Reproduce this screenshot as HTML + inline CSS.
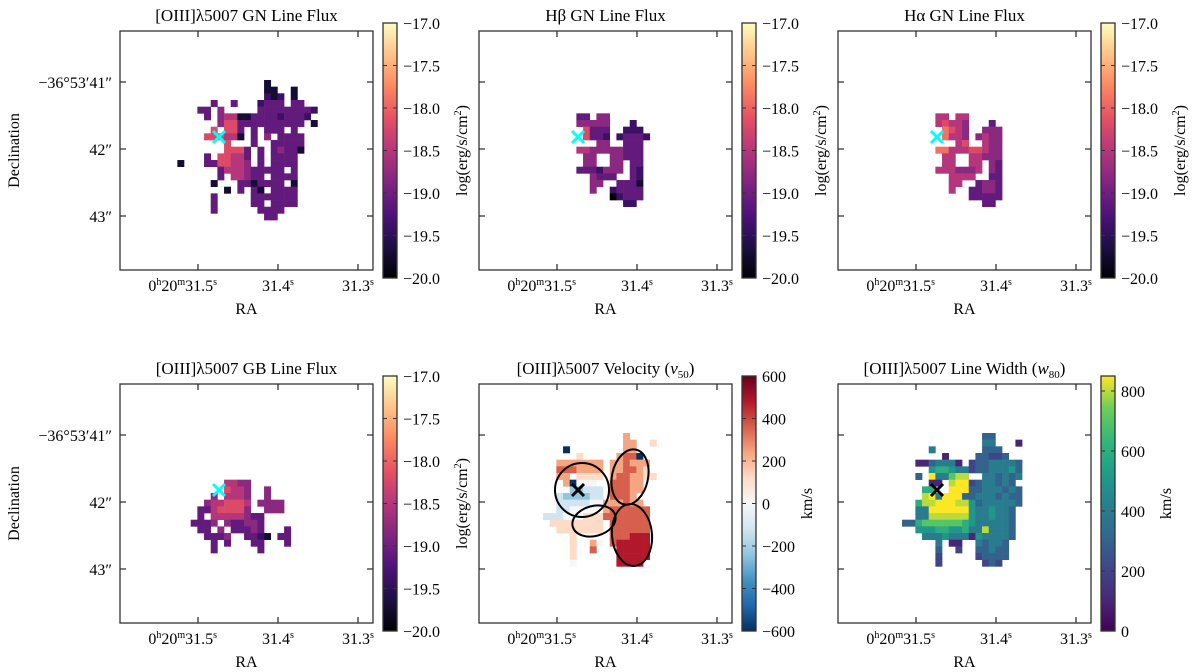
<!DOCTYPE html>
<html><head><meta charset="utf-8"><style>
body{margin:0;background:#fff;}
svg{display:block;font-family:"Liberation Serif",serif;}
</style></head><body>
<svg id="fig" width="1200" height="672" viewBox="0 0 1200 672" xmlns="http://www.w3.org/2000/svg"></svg>
<script>
// ---- data ----
const p1Grid=["..............1.......","..............11..1...","..............212.1...","......3..3...2333.33..","....33.4.....333333332",".....3.45511333323332.",".......4663333333333.1","......6.663.3.333.3...",".....666551.3.4.3333..","........6...3..33333..","........6663.3.34331..",".....3.66553.3.3333...",".1...3366554.3.3333...",".......3555433333.3...",".......3.55433.3333...","......1...3313333.1...","........1.3.31.3333...","......3.....3333333...","......3.....33.3333...","......3......3333.....","..............33......"];
const p2Grid=["33.44......","44444...2..",".6333..222.",".6332.23332","...44..333.","5544444333.",".44..44333.",".44..44.33.","3332444.32.","..4333..32.","..44..3331.","..4..23333.",".....02333.",".......22.."];
const p3Grid=["55.55......","56554...3..",".7654..444.",".7554.4544.","...56..544.","7755566544.",".55..55444.",".55..55.43.","5554445.43.","..5555..33.","..55..3443.","..5..33443.",".....33333.",".......33.."];
const p4Grid=[".....5544......",".....6554..4...","...4.5554..4...","..4556665.4444.",".33566664..444.",".3.55555433....","3334.433443....",".33.4.33343...3","..3334..3321.33","...3.3...33...3","...3......3...."];
const p5Grid=["............7....","............77..6","...0........77...",".....6.....7880..","..7777777.778777.","..8887777.778876.","..77.6666.7887766","...70555..88877..","....33444.88877..","..4333344.8887...","..4444455777877..","..44555557888888.","4445556668888888.",".66666666.888888.","..6666666.888888.","....6.....888999.","....6..75.899999.","....6..8...99999.","....6......99999.","....5......9999.."];
const p6Grid=["............33.....","............44...1.","....4.......333....","......1....33223...","..1134441.23344443.","....56654423344453.","..3.944788..443434.","....11.8992344343..","...66..99933444343.","...894999334443433.","..6889998853444443.","..449999995445443..","..448888885445443..","33677777765444443..","..555665564484443..","...44454441544443..",".....4.11..43443...",".....3..2..33433...",".....2.....23333...",".....2......232...."];
const fluxTicks=[-17.0,-17.5,-18.0,-18.5,-19.0,-19.5,-20.0];
const velTicks=[600,400,200,0,-200,-400,-600];
const widthTicks=[800,600,400,200,0];
const decLabels=["\u221236\u00b053\u203241\u2033","42\u2033","43\u2033"];
// ---- helpers ----
const NS="http://www.w3.org/2000/svg";
const svg=document.getElementById('fig');
function el(tag,attrs,parent){const e=document.createElementNS(NS,tag);for(const k in attrs)e.setAttribute(k,attrs[k]);(parent||svg).appendChild(e);return e;}
function hex(h){return [parseInt(h.slice(1,3),16),parseInt(h.slice(3,5),16),parseInt(h.slice(5,7),16)];}
function cmapFn(stops){const c=stops.map(hex);return t=>{t=Math.max(0,Math.min(1,t));const n=c.length-1;const i=Math.min(n-1,Math.floor(t*n));const f=t*n-i;const a=c[i],b=c[i+1];return 'rgb('+a.map((v,j)=>Math.round(v+(b[j]-v)*f)).join(',')+')';};}
const magmaStops=["#000004","#1c1044","#4f127b","#812581","#b5367a","#e55064","#fb8761","#fec287","#fcfdbf"];
const viridisStops=["#440154","#482878","#3e4989","#31688e","#26828e","#1f9e89","#35b779","#6ece58","#fde725"];
const rdbuStops=["#053061","#2166ac","#4393c3","#92c5de","#d1e5f0","#f7f7f7","#fddbc7","#f4a582","#d6604d","#b2182b","#67001f"];
const magma=cmapFn(magmaStops),viridis=cmapFn(viridisStops),rdbu=cmapFn(rdbuStops);
const CELL=6.67,BW=253,BH=239;
const panels=[
 {name:'oiii-gn-flux',title:'[OIII]\u03bb5007 GN Line Flux',px:120,py:31,grid:p1Grid,c0:7,r0:7,kind:'flux',mk:'#00ffff'},
 {name:'hbeta-gn-flux',title:'H\u03b2 GN Line Flux',px:479,py:31,grid:p2Grid,c0:14,r0:12,kind:'flux',mk:'#00ffff'},
 {name:'halpha-gn-flux',title:'H\u03b1 GN Line Flux',px:838,py:31,grid:p3Grid,c0:14,r0:12,kind:'flux',mk:'#00ffff'},
 {name:'oiii-gb-flux',title:'[OIII]\u03bb5007 GB Line Flux',px:120,py:384,grid:p4Grid,c0:10,r0:14,kind:'flux',mk:'#00ffff'},
 {name:'oiii-velocity',title:'[OIII]\u03bb5007 Velocity (v50)',px:479,py:384,grid:p5Grid,c0:9,r0:7,kind:'vel',mk:'#000'},
 {name:'oiii-line-width',title:'[OIII]\u03bb5007 Line Width (w80)',px:838,py:384,grid:p6Grid,c0:9,r0:7,kind:'width',mk:'#000'}
];
function valueOf(kind,d){if(kind==='flux')return -20+d*0.3;if(kind==='vel')return (d-5)*120;return d*100;}
function colorOf(kind,v){if(kind==='flux')return magma((v+20)/3);if(kind==='vel')return rdbu((v+600)/1200);return viridis(v/850);}
panels.forEach((p,pi)=>{
 const g=el('g',{});
 
 
 const t=el('text',{x:p.px+BW/2,y:p.py-10,'text-anchor':'middle','font-size':17},g);
 if(p.kind==='vel'){t.innerHTML='[OIII]\u03bb5007 Velocity (<tspan font-style="italic">v</tspan><tspan font-size="11" dy="4">50</tspan><tspan dy="-4">)</tspan>';}
 else if(p.kind==='width'){t.innerHTML='[OIII]\u03bb5007 Line Width (<tspan font-style="italic">w</tspan><tspan font-size="11" dy="4">80</tspan><tspan dy="-4">)</tspan>';}
 else t.textContent=p.title;
 
 
 const cg=el('g',{},g);
 
 
 p.grid.forEach((row,ri)=>{for(let ci=0;ci<row.length;ci++){const ch=row[ci];if(ch<'0'||ch>'9')continue;const v=valueOf(p.kind,+ch);
  const r=el('rect',{x:(p.px+4+(p.c0+ci)*CELL).toFixed(2),y:(p.py+2.3+(p.r0+ri)*CELL).toFixed(2),width:CELL+0.3,height:CELL+0.3,fill:colorOf(p.kind,v)},cg);
  
  }});
 if(p.kind==='vel'){
  [[103,106,27,27,0],[151,93,18,28,12],[115,137,22,15,-15],[153,151,20,31,-5]].forEach(e=>{
   const o=el('ellipse',{cx:p.px+e[0],cy:p.py+e[1],rx:e[2],ry:e[3],fill:'none',stroke:'#000','stroke-width':2,transform:`rotate(${e[4]} ${p.px+e[0]} ${p.py+e[1]})`},g);
   
   });
 }
 const mx=p.px+99,my=p.py+106;
 const m=el('path',{d:`M${mx-6} ${my-6}L${mx+6} ${my+6}M${mx-6} ${my+6}L${mx+6} ${my-6}`,stroke:p.mk,'stroke-width':3},g);
 
 
 const b=el('rect',{x:p.px,y:p.py,width:BW,height:BH,fill:'none',stroke:'#333','stroke-width':1.3},g);
 
 
 const raX=[78,158,238];
 raX.forEach((dx,i)=>{
  el('path',{d:`M${p.px+dx} ${p.py+BH}v-6M${p.px+dx} ${p.py}v6`,stroke:'#333','stroke-width':1.3},g);
  const lt=el('text',{x:p.px+dx,y:p.py+BH+21,'text-anchor':i===0?'end':'middle','font-size':16},g);
  if(i===0){lt.setAttribute('x',p.px+dx+19);lt.innerHTML='0<tspan font-size="10" dy="-6">h</tspan><tspan dy="6">20</tspan><tspan font-size="10" dy="-6">m</tspan><tspan dy="6">31.5</tspan><tspan font-size="10" dy="-6">s</tspan>';}
  else lt.innerHTML=(i===1?'31.4':'31.3')+'<tspan font-size="10" dy="-6">s</tspan>';
  
  
 });
 const rl=el('text',{x:p.px+BW/2,y:p.py+BH+44,'text-anchor':'middle','font-size':16},g);
 rl.textContent='RA';
 
 
 [51,118,185].forEach((dy,i)=>{
  el('path',{d:`M${p.px} ${p.py+dy}h6M${p.px+BW} ${p.py+dy}h-6`,stroke:'#333','stroke-width':1.3},g);
  if(pi%3===0){const dl=el('text',{x:p.px-8,y:p.py+dy+6,'text-anchor':'end','font-size':16},g);
   dl.textContent=decLabels[i];
   
   }
 });
 if(pi%3===0){const yl=el('text',{x:0,y:0,'text-anchor':'middle','font-size':16,transform:`translate(19 ${p.py+BH/2}) rotate(-90)`},g);
  yl.textContent='Declination';
  
  }
 const cx=p.px+263,cy=p.py-8,ch=255,cw=14;
 const gid='grad'+pi;
 const defs=el('defs',{},g);
 const lg=el('linearGradient',{id:gid,x1:0,y1:1,x2:0,y2:0},defs);
 const stops=p.kind==='flux'?magmaStops:p.kind==='vel'?rdbuStops:viridisStops;
 stops.forEach((s,i)=>el('stop',{offset:i/(stops.length-1),'stop-color':s},lg));
 const cb=el('rect',{x:cx,y:cy,width:cw,height:ch,fill:`url(#${gid})`,stroke:'#333','stroke-width':1.3},g);
 
 
 let ticks,tpos,fmt,lab;
 if(p.kind==='flux'){ticks=fluxTicks;tpos=v=>cy+ch*(-17-v)/3;fmt=v=>v.toFixed(1).replace('-','\u2212');lab='log(erg/s/cm<tspan font-size="10" dy="-6">2</tspan><tspan dy="6">)</tspan>';}
 else if(p.kind==='vel'){ticks=velTicks;tpos=v=>cy+ch*(600-v)/1200;fmt=v=>String(v).replace('-','\u2212');lab='km/s';}
 else {ticks=widthTicks;tpos=v=>cy+ch*(850-v)/850;fmt=v=>String(v);lab='km/s';}
 ticks.forEach(v=>{const y=tpos(v);
  el('path',{d:`M${cx+cw} ${y}h-4M${cx} ${y}h4`,stroke:'#333','stroke-width':1},g);
  const tl=el('text',{x:cx+cw+6,y:y+6,'font-size':16},g);
  tl.textContent=fmt(v);
  
  });
 const labX=p.kind==='flux'?cx+84:cx+70;
 const cl=el('text',{x:0,y:0,'text-anchor':'middle','font-size':16,transform:`translate(${labX} ${cy+ch/2}) rotate(-90)`},g);
 cl.innerHTML=lab;
 
 
});
</script>
</body></html>
